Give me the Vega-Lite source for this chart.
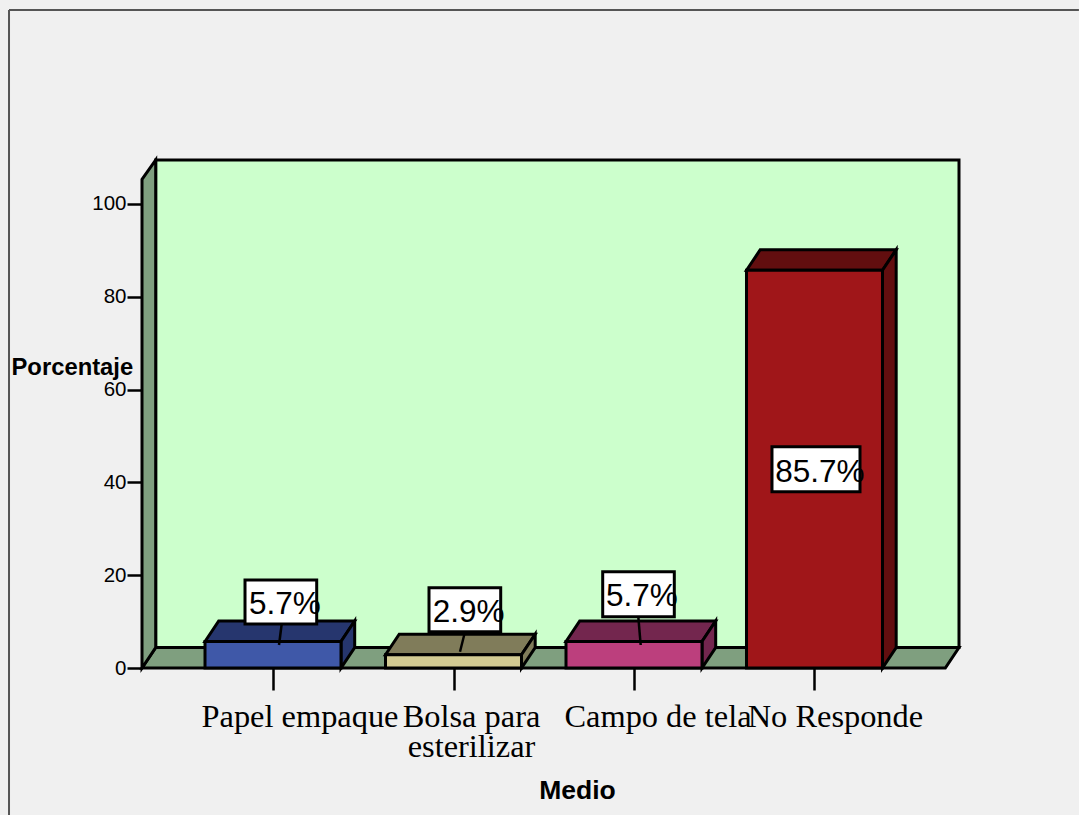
{
"$schema":"https://vega.github.io/schema/vega-lite/v6.json",
"width":817,"height":509,"autosize":{"type":"none"},
"padding":{"left":142,"top":159,"right":120,"bottom":147},
"background":"#f0f0f0",
"config":{"view":{"stroke":null},"axis":{"grid":false}},
"resolve":{"scale":{"fill":"independent"}},
"datasets":{
"barras":[
{"pos":1,"medio":"Papel empaque","pct":5.714},
{"pos":2,"medio":"Bolsa para esterilizar","pct":2.857},
{"pos":3,"medio":"Campo de tela","pct":5.714},
{"pos":4,"medio":"No Responde","pct":85.714}],
"caras":[
{"pieza":"1s","x":0.6233,"y":5.714,"y2":5.714},{"pieza":"1s","x":0.6992,"y":10.134,"y2":5.714},{"pieza":"1s","x":1.3767,"y":10.134,"y2":5.714},{"pieza":"1s","x":1.4526,"y":10.134,"y2":10.134},
{"pieza":"1l","x":1.3767,"y":5.714,"y2":0},{"pieza":"1l","x":1.4526,"y":10.134,"y2":4.42},
{"pieza":"2s","x":1.6233,"y":2.857,"y2":2.857},{"pieza":"2s","x":1.6992,"y":7.277,"y2":2.857},{"pieza":"2s","x":2.3767,"y":7.277,"y2":2.857},{"pieza":"2s","x":2.4526,"y":7.277,"y2":7.277},
{"pieza":"2l","x":2.3767,"y":2.857,"y2":0},{"pieza":"2l","x":2.4526,"y":7.277,"y2":4.42},
{"pieza":"3s","x":2.6233,"y":5.714,"y2":5.714},{"pieza":"3s","x":2.6992,"y":10.134,"y2":5.714},{"pieza":"3s","x":3.3767,"y":10.134,"y2":5.714},{"pieza":"3s","x":3.4526,"y":10.134,"y2":10.134},
{"pieza":"3l","x":3.3767,"y":5.714,"y2":0},{"pieza":"3l","x":3.4526,"y":10.134,"y2":4.42},
{"pieza":"4s","x":3.6233,"y":85.714,"y2":85.714},{"pieza":"4s","x":3.6992,"y":90.134,"y2":85.714},{"pieza":"4s","x":4.3767,"y":90.134,"y2":85.714},{"pieza":"4s","x":4.4526,"y":90.134,"y2":90.134},
{"pieza":"4l","x":4.3767,"y":85.714,"y2":0},{"pieza":"4l","x":4.4526,"y":90.134,"y2":4.42}],
"paredes":[
{"pieza":"fondo","x":0.3501,"y":109.5,"y2":4.42},{"pieza":"fondo","x":4.8006,"y":109.5,"y2":4.42},
{"pieza":"piso","x":0.2742,"y":0,"y2":0},{"pieza":"piso","x":0.3501,"y":4.42,"y2":0},{"pieza":"piso","x":4.7247,"y":4.42,"y2":0},{"pieza":"piso","x":4.8006,"y":4.42,"y2":4.42},
{"pieza":"lado","x":0.2742,"y":105.3,"y2":0},{"pieza":"lado","x":0.3501,"y":109.5,"y2":4.42}],
"rotulos":[
{"texto":"5.7%","x0":0.8449,"x1":1.2421,"y0":9.48,"y1":18.97,"tx":0.867,"ty":11.64},
{"texto":"2.9%","x0":1.8643,"x1":2.2615,"y0":7.82,"y1":17.31,"tx":1.8848,"ty":9.91},
{"texto":"5.7%","x0":2.8266,"x1":3.2233,"y0":11.06,"y1":20.75,"tx":2.8449,"ty":13.43},
{"texto":"85.7%","x0":3.7645,"x1":4.2521,"y0":38.0,"y1":47.69,"tx":3.7828,"ty":40.15}],
"guias":[
{"x0":1.0482,"y0":9.48,"x1":1.0332,"y1":4.96},
{"x0":2.0637,"y0":7.82,"x1":2.036,"y1":3.51},
{"x0":3.0238,"y0":11.06,"x1":3.0371,"y1":4.96}],
"etiquetas":[
{"texto":"Papel empaque","x":1.1496,"y":-12.7},
{"texto":"Bolsa para","x":2.0997,"y":-12.7},
{"texto":"esterilizar","x":2.0997,"y":-19.2},
{"texto":"Campo de tela","x":3.133,"y":-12.7},
{"texto":"No Responde","x":4.116,"y":-12.7}],
"marco":[
{"x0":-0.4626,"y0":141.8,"x1":5.465,"y1":141.8},
{"x0":-0.4626,"y0":141.8,"x1":-0.4626,"y1":-31.7}]
},
"layer":[
{"data":{"name":"marco"},"mark":{"type":"rule","stroke":"#555555","strokeWidth":2},
"encoding":{"x":{"field":"x0","type":"quantitative","scale":{"domain":[0.2742,4.8006],"nice":false,"zero":false,"padding":0},
"axis":{"values":[1,2,3,4],"labels":false,"domain":false,"tickSize":22,"tickWidth":2.5,"tickColor":"#000000","title":"Medio","titleFont":"Liberation Sans","titleFontSize":26.5,"titleFontWeight":"bold","titleColor":"#000000","titleX":435,"titleY":130,"titleAlign":"center","titleBaseline":"alphabetic"}},
"x2":{"field":"x1"},
"y":{"field":"y0","type":"quantitative","scale":{"domain":[0,109.698],"nice":false,"zero":false},
"axis":{"values":[0,20,40,60,80,100],"domain":false,"tickSize":15,"tickWidth":2.5,"tickColor":"#000000","labelFont":"Liberation Sans","labelFontSize":20.5,"labelColor":"#000000","labelPadding":1,"title":"Porcentaje","titleFont":"Liberation Sans","titleFontSize":23.8,"titleFontWeight":"bold","titleColor":"#000000","titleAngle":0,"titleX":-131,"titleY":215.5,"titleAlign":"left","titleBaseline":"alphabetic"}},
"y2":{"field":"y1"}}},
{"data":{"name":"paredes"},"mark":{"type":"area","orient":"vertical","stroke":"#000000","strokeWidth":3,"strokeJoin":"miter"},
"encoding":{"x":{"field":"x","type":"quantitative"},"y":{"field":"y","type":"quantitative","stack":null},"y2":{"field":"y2"},
"fill":{"field":"pieza","type":"nominal","legend":null,"scale":{"domain":["fondo","piso","lado"],"range":["#ccffcc","#7f9f7f","#7f9f7f"]}}}},
{"data":{"name":"caras"},"mark":{"type":"area","orient":"vertical","stroke":"#000000","strokeWidth":3,"strokeJoin":"miter"},
"encoding":{"x":{"field":"x","type":"quantitative"},"y":{"field":"y","type":"quantitative","stack":null},"y2":{"field":"y2"},
"fill":{"field":"pieza","type":"nominal","legend":null,"scale":{"domain":["1s","1l","2s","2l","3s","3l","4s","4l"],"range":["#26366e","#26366e","#807c5a","#807c5a","#73264e","#73264e","#620e0f","#620e0f"]}}}},
{"data":{"name":"barras"},"mark":{"type":"bar","orient":"vertical","size":136,"stroke":"#000000","strokeWidth":3},
"encoding":{"x":{"field":"pos","type":"quantitative"},"y":{"field":"pct","type":"quantitative","stack":null},
"fill":{"field":"medio","type":"nominal","legend":null,"scale":{"domain":["Papel empaque","Bolsa para esterilizar","Campo de tela","No Responde"],"range":["#3f58a8","#d3cb93","#bc3f7d","#a01619"]}}}},
{"data":{"name":"guias"},"mark":{"type":"rule","stroke":"#000000","strokeWidth":2.5},
"encoding":{"x":{"field":"x0","type":"quantitative"},"x2":{"field":"x1"},"y":{"field":"y0","type":"quantitative"},"y2":{"field":"y1"}}},
{"data":{"name":"rotulos"},"mark":{"type":"rect","fill":"#ffffff","stroke":"#000000","strokeWidth":3},
"encoding":{"x":{"field":"x0","type":"quantitative"},"x2":{"field":"x1"},"y":{"field":"y0","type":"quantitative"},"y2":{"field":"y1"}}},
{"data":{"name":"rotulos"},"mark":{"type":"text","align":"left","baseline":"alphabetic","font":"Liberation Sans","fontSize":31.5,"fill":"#000000"},
"encoding":{"x":{"field":"tx","type":"quantitative"},"y":{"field":"ty","type":"quantitative"},"text":{"field":"texto","type":"nominal"}}},
{"data":{"name":"etiquetas"},"mark":{"type":"text","align":"center","baseline":"alphabetic","font":"Liberation Serif","fontSize":32.4,"fill":"#000000"},
"encoding":{"x":{"field":"x","type":"quantitative"},"y":{"field":"y","type":"quantitative"},"text":{"field":"texto","type":"nominal"}}}
]
}
